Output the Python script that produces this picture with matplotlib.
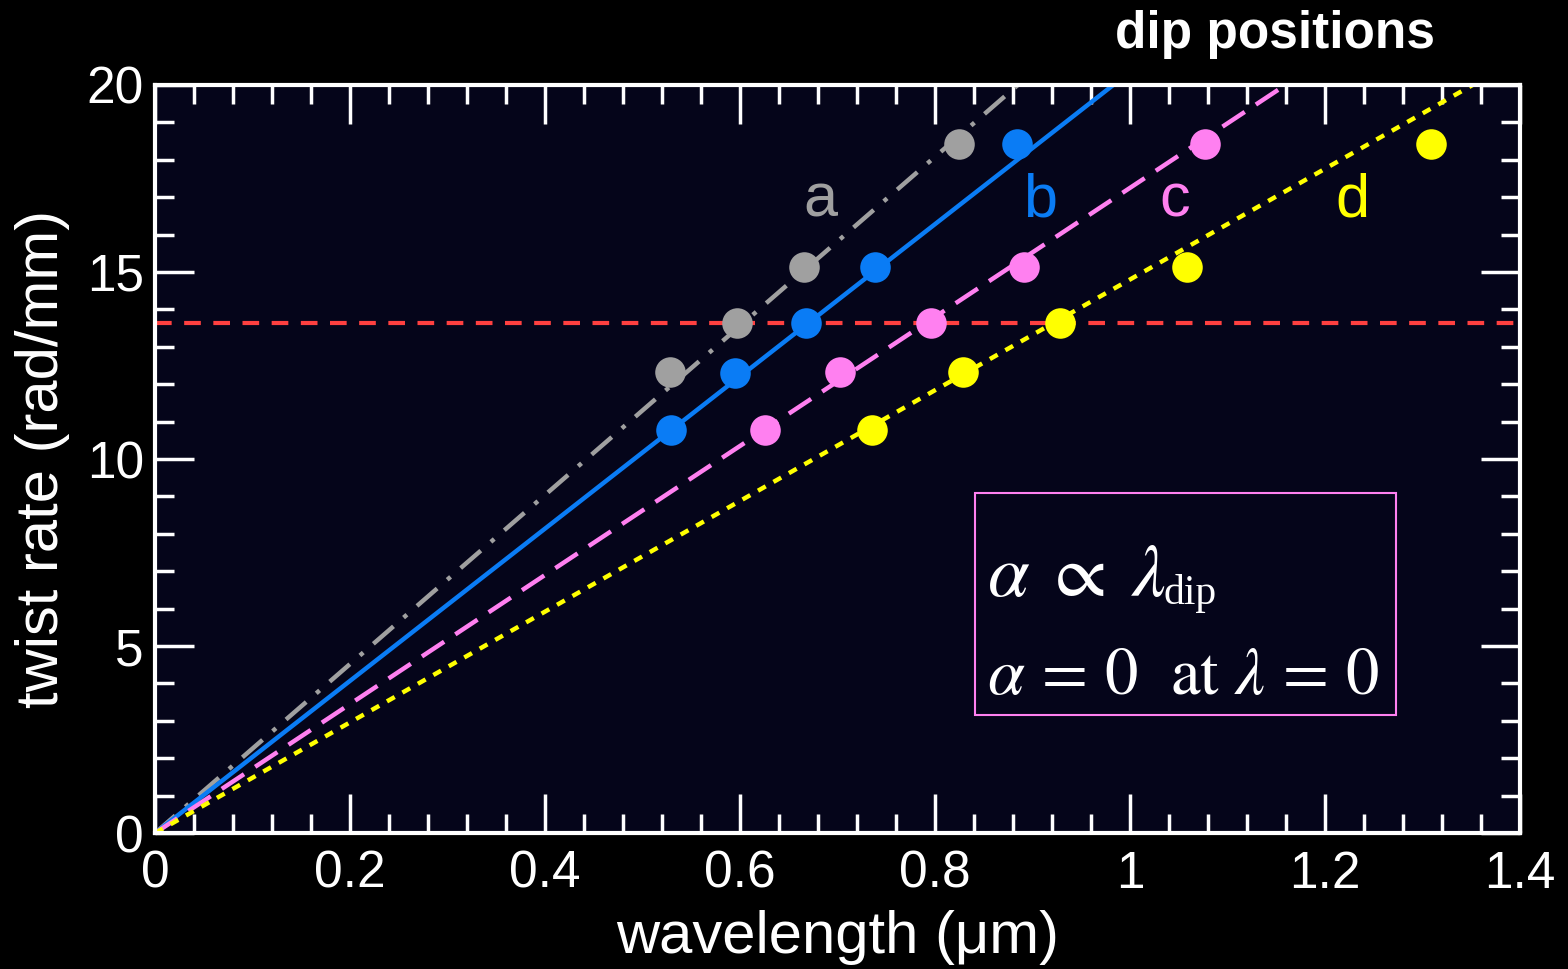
import numpy as np
import matplotlib.pyplot as plt
from matplotlib.patches import Rectangle

plt.rcParams['font.family'] = ['Liberation Sans', 'DejaVu Sans']
plt.rcParams['mathtext.fontset'] = 'stix'

labels = ["a", "b", "c", "d"]
colors = ["#a0a0a0", "#0a7cf5", "#ff80f0", "#ffff00"]
styles = [(0, (6, 3, 1, 3)), "-", (0, (6, 3)), (0, (2, 2))]
slopes = [22.6, 20.35, 17.25, 14.8]

twist = [
    [12.33, 13.64, 15.13, 18.42],
    [10.78, 12.30, 13.64, 15.13, 18.42],
    [10.78, 12.33, 13.64, 15.13, 18.42],
    [10.78, 12.33, 13.64, 15.13, 18.42],
]
wavelength = [
    [0.528, 0.597, 0.666, 0.825],
    [0.529, 0.595, 0.668, 0.738, 0.884],
    [0.626, 0.703, 0.796, 0.891, 1.077],
    [0.735, 0.829, 0.928, 1.058, 1.309],
]
label_pos = [(0.682, 16.9), (0.908, 16.9), (1.046, 16.9), (1.228, 16.9)]
red_level = 13.64

fig = plt.figure(figsize=(15.68, 9.69), dpi=100, facecolor="black")
ax = fig.add_axes([0.0989, 0.1403, 0.8705, 0.772])
ax.set_facecolor("#05051a")

ax.axhline(red_level, color="#ff4040", lw=3, ls=(0, (4, 3)), zorder=1)

for i in range(4):
    xend = 20 / slopes[i]
    xs = np.array([0, xend])
    ax.plot(xs, slopes[i] * xs, color=colors[i], lw=3.2, ls=styles[i], zorder=2)
    ax.plot(wavelength[i], twist[i], "o", color=colors[i], ms=22, mec="none", zorder=3)
    ax.text(label_pos[i][0], label_pos[i][1], labels[i], color=colors[i],
            fontsize=44, ha="center", va="center")

ax.set_xlim(0, 1.4)
ax.set_ylim(0, 20)
ax.set_xticks(np.arange(0, 1.41, 0.2))
ax.set_xticklabels(["0", "0.2", "0.4", "0.6", "0.8", "1", "1.2", "1.4"])
ax.set_xticks(np.arange(0, 1.41, 0.04), minor=True)
ax.set_yticks([0, 5, 10, 15, 20])
ax.set_yticks(np.arange(0, 21, 1), minor=True)
ax.tick_params(which="both", direction="in", top=True, right=True, colors="white",
               width=2.5, labelsize=37)
ax.tick_params(axis="x", pad=12)
ax.tick_params(axis="y", pad=8)
ax.tick_params(which="major", length=28)
ax.tick_params(which="minor", length=14)
for s in ax.spines.values():
    s.set_color("white")
    s.set_linewidth(3)

ax.set_xlabel("wavelength (μm)", color="white", fontsize=43, labelpad=8)
ax.set_ylabel("twist rate (rad/mm)", color="white", fontsize=43, labelpad=12)

fig.text(0.915, 0.964, "dip positions", color="white", fontsize=37,
         fontweight="bold", ha="right", va="center")

# formula box
ax.text(0.853, 6.85, r"$\alpha\;\propto\;\lambda$", color="white",
        fontsize=54, va="center", ha="left")
ax.text(1.034, 6.4, "dip", color="white", family="Liberation Serif",
        fontsize=30, va="center", ha="left")
ax.text(0.853, 4.17, r"$\alpha\,=\,0\ \ \mathrm{at}\ \lambda\,=\,0$", color="white",
        fontsize=48, va="center", ha="left")
ax.add_patch(Rectangle((0.841, 3.16), 0.432, 5.92, fill=False, ec="#ff80f0", lw=1.5, zorder=4))

plt.savefig("out.png", dpi=100, facecolor="black")
